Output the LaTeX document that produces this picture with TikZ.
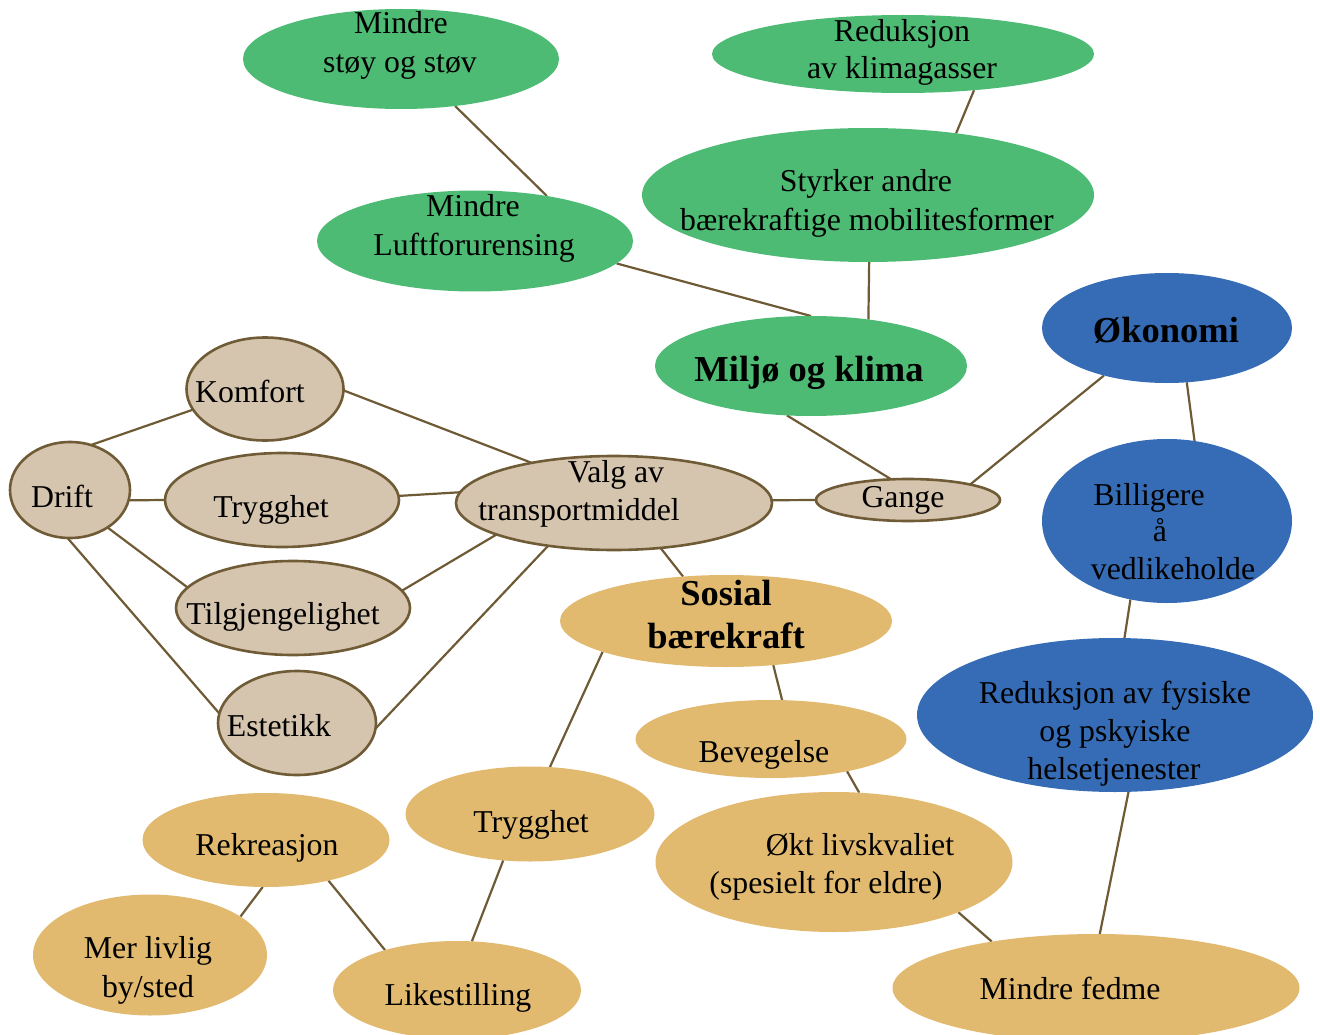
\documentclass[tikz,border=0pt]{standalone}
\usepackage{fontspec}
\setmainfont{Liberation Serif}
\usetikzlibrary{shapes.geometric,backgrounds}
\definecolor{leaf}{HTML}{4DBB74}
\definecolor{sea}{HTML}{356CB5}
\definecolor{sand}{HTML}{D6C5AE}
\definecolor{sandline}{HTML}{705B37}
\definecolor{wheat}{HTML}{E1BA70}
\definecolor{linkbrown}{HTML}{6F5A36}
\begin{document}
\begin{tikzpicture}[x=1pt,y=-1pt,
  bub/.style={ellipse, inner sep=0pt, outer sep=0pt},
  greenbub/.style={bub, fill=leaf},
  bluebub/.style={bub, fill=sea},
  tanbub/.style={bub, fill=sand, draw=sandline, line width=2.6pt},
  goldbub/.style={bub, fill=wheat},
  link/.style={draw=linkbrown, line width=2.2pt},
  lbl/.style={anchor=base, inner sep=0pt, font=\fontsize{31.8}{37}\selectfont},
  hdr/.style={anchor=base, inner sep=0pt, font=\fontsize{36.5}{42}\selectfont\bfseries}]
\useasboundingbox (0,0) rectangle (1320,1035);

% environment branch
\node[greenbub, minimum width=316pt, minimum height=100pt] (stoy) at (401,59) {};
\node[greenbub, minimum width=382pt, minimum height=78pt] (klimagass) at (903,54) {};
\node[greenbub, minimum width=452pt, minimum height=134pt] (styrker) at (868,195) {};
\node[greenbub, minimum width=316pt, minimum height=101pt] (luft) at (475,241) {};
\node[greenbub, minimum width=312pt, minimum height=100pt] (miljo) at (811,366) {};

% economy branch
\node[bluebub, minimum width=250pt, minimum height=110pt] (okonomi) at (1167,328) {};
\node[bluebub, minimum width=250pt, minimum height=164pt] (billig) at (1167,521) {};
\node[bluebub, minimum width=396pt, minimum height=154pt] (helse) at (1115,715) {};

% transport choice
\node[tanbub, minimum width=157pt, minimum height=103pt] (komfort) at (265,389) {};
\node[tanbub, minimum width=120pt, minimum height=96pt] (drift) at (70,490) {};
\node[tanbub, minimum width=234pt, minimum height=94pt] (trygg) at (282,500) {};
\node[tanbub, minimum width=234pt, minimum height=94pt] (tilgj) at (293,608) {};
\node[tanbub, minimum width=158pt, minimum height=104pt] (estetikk) at (297,723) {};
\node[tanbub, minimum width=316pt, minimum height=94pt] (valg) at (614,503) {};
\node[tanbub, minimum width=184pt, minimum height=42pt] (gange) at (908,500) {};

% social branch
\node[goldbub, minimum width=332pt, minimum height=92pt] (sosial) at (726,621) {};
\node[goldbub, minimum width=271pt, minimum height=78pt] (bevegelse) at (771,739) {};
\node[goldbub, minimum width=249pt, minimum height=95pt] (trygg2) at (530,814) {};
\node[goldbub, minimum width=357pt, minimum height=140pt] (livskval) at (834,862) {};
\node[goldbub, minimum width=247pt, minimum height=94pt] (rekr) at (266,840) {};
\node[goldbub, minimum width=234pt, minimum height=121pt] (livlig) at (150,955) {};
\node[goldbub, minimum width=248pt, minimum height=98pt] (likest) at (457,990) {};
\node[goldbub, minimum width=407pt, minimum height=108pt] (fedme) at (1096,988) {};

% connectors behind the bubbles
\begin{pgfonlayer}{background}
\draw[link] (stoy.-41) -- (luft.32);
\draw[link] (klimagass.-27) -- (styrker.35);
\draw[link] (luft.-9) -- (miljo.90);
\draw[link] (styrker.-89) -- (miljo.39);
\draw[link] (miljo.-116) -- (gange.129);
\draw[link] (gange.14) -- (okonomi.-143);
\draw[link] (okonomi.-70) -- (billig.71);
\draw[link] (billig.-115) -- (helse.83);
\draw[link] (helse.-80) -- (fedme.86);
\draw[link] (valg.1) -- (gange.180);
\draw[link] (valg.-44) -- (sosial.134);
\draw[link] (komfort.-1) -- (valg.154);
\draw[link] (trygg.2) -- (valg.176);
\draw[link] (tilgj.9) -- (valg.-165);
\draw[link] (estetikk.-4) -- (valg.-147);
\draw[link] (drift.65) -- (komfort.-164);
\draw[link] (drift.-10) -- (trygg.180);
\draw[link] (drift.-45) -- (tilgj.169);
\draw[link] (drift.-93) -- (estetikk.173);
\draw[link] (sosial.-166) -- (trygg2.67);
\draw[link] (sosial.-43) -- (bevegelse.74);
\draw[link] (bevegelse.-23) -- (livskval.70);
\draw[link] (livskval.-22) -- (fedme.156);
\draw[link] (trygg2.-120) -- (likest.73);
\draw[link] (rekr.-33) -- (likest.151);
\draw[link] (rekr.-94) -- (livlig.23);
\end{pgfonlayer}

% labels
\node[lbl] (stoyA) at (401,34) {Mindre};
\node[lbl] (stoyB) at (400,73) {støy og støv};
\node[lbl] (klimA) at (902,42) {Reduksjon};
\node[lbl] (klimB) at (902,79) {av klimagasser};
\node[lbl] (styrA) at (866,192) {Styrker andre};
\node[lbl] (styrB) at (867,230) {bærekraftige mobilitesformer};
\node[lbl] (luftA) at (473,217) {Mindre};
\node[lbl] (luftB) at (474,255) {Luftforurensing};
\node[hdr] (miljoT) at (809,381) {Miljø og klima};

\node[hdr] (okoT) at (1166,342) {Økonomi};
\node[lbl] (billA) at (1149,505) {Billigere};
\node[lbl] (billB) at (1160,541) {å};
\node[lbl] (billC) at (1173,579) {vedlikeholde};
\node[lbl] (helseA) at (1115,703) {Reduksjon av fysiske};
\node[lbl] (helseB) at (1115,741) {og pskyiske};
\node[lbl] (helseC) at (1114,779) {helsetjenester};

\node[lbl] (komfortT) at (250,402) {Komfort};
\node[lbl] (driftT) at (62,507) {Drift};
\node[lbl] (tryggT) at (271,517) {Trygghet};
\node[lbl] (tilgjT) at (283,624) {Tilgjengelighet};
\node[lbl] (estT) at (279,736) {Estetikk};
\node[lbl] (valgA) at (616,482) {Valg av};
\node[lbl] (valgB) at (579,520) {transportmiddel};
\node[lbl] (gangeT) at (903,507) {Gange};

\node[hdr] (sosA) at (726,605) {Sosial};
\node[hdr] (sosB) at (726,648) {bærekraft};
\node[lbl] (bevT) at (764,762) {Bevegelse};
\node[lbl] (livA) at (860,855) {Økt livskvaliet};
\node[lbl] (livB) at (826,893) {(spesielt for eldre)};
\node[lbl] (trygg2T) at (531,832) {Trygghet};
\node[lbl] (rekrT) at (267,855) {Rekreasjon};
\node[lbl] (livligA) at (148,958) {Mer livlig};
\node[lbl] (livligB) at (148,997) {by/sted};
\node[lbl] (likestT) at (458,1005) {Likestilling};
\node[lbl] (fedmeT) at (1070,999) {Mindre fedme};
\end{tikzpicture}
\end{document}
